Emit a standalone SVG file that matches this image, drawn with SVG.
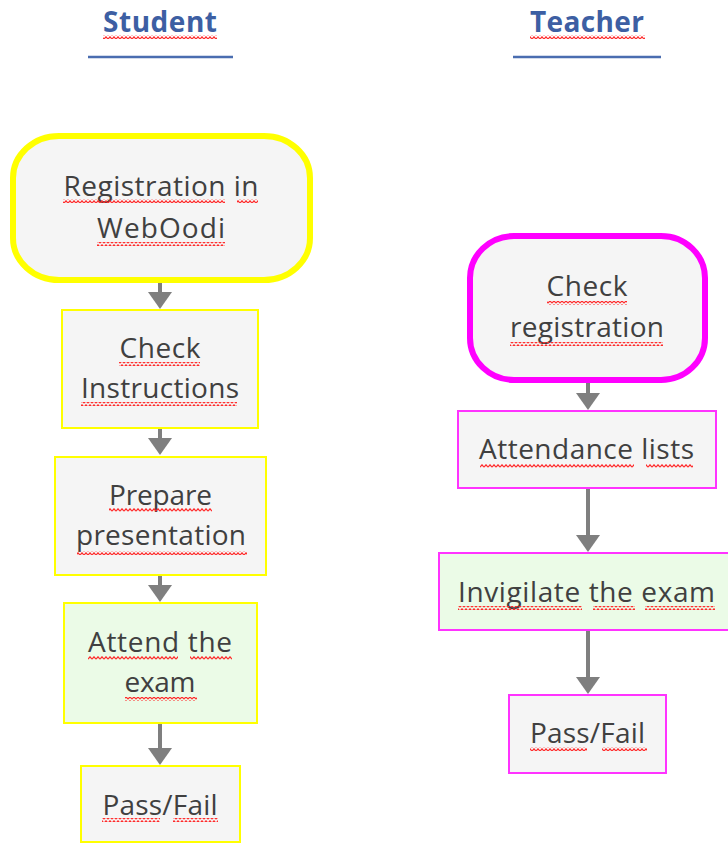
<svg xmlns="http://www.w3.org/2000/svg" width="728" height="843" viewBox="0 0 728 843">
<defs>
<style>
.title{font-family:"Open Sans","Liberation Sans",sans-serif;font-weight:bold;font-size:28px;fill:#3D5FA3;text-anchor:middle}
.rule{stroke:#4A6DB0;stroke-width:2.5}
.lbl{font-family:"Open Sans","Liberation Sans",sans-serif;font-size:28px;fill:#404040;text-anchor:middle}
.gray{fill:#F5F5F5}
.green{fill:#EBFBE7}
.yb{stroke:#FFFF00;stroke-width:2}
.mb{stroke:#FF33FF;stroke-width:2}
.yr{stroke:#FFFF00;stroke-width:6}
.mr{stroke:#FF00FF;stroke-width:6}
.conn line{stroke:#7F7F7F;stroke-width:4;marker-end:url(#ah)}
.sq{fill:url(#zig)}
</style>
<marker id="ah" markerUnits="userSpaceOnUse" markerWidth="17" markerHeight="24" viewBox="0 0 17 24" refX="9" refY="12" orient="auto">
<path d="M0,0 L17,12 L0,24 Z" fill="#7F7F7F"/>
</marker>
<pattern id="zig" patternUnits="userSpaceOnUse" width="4" height="4">
<path d="M0,3.2 L2,0.8 L4,3.2" fill="none" stroke="#FF2A2A" stroke-width="1.2"/>
</pattern>
</defs>
<rect width="728" height="843" fill="#FFFFFF"/>

<g id="header-student">
<text class="title" x="160" y="32" textLength="114">Student</text>
<rect class="sq" x="103" y="35" width="114" height="4"/>
<line class="rule" x1="88" y1="57" x2="233" y2="57"/>
</g>
<g id="header-teacher">
<text class="title" x="587" y="32" textLength="114">Teacher</text>
<rect class="sq" x="530" y="35" width="115" height="4"/>
<line class="rule" x1="513" y1="57" x2="661" y2="57"/>
</g>

<g class="conn" id="connectors">
<line x1="160" y1="283" x2="160" y2="301"/>
<line x1="160" y1="428" x2="160" y2="447"/>
<line x1="160" y1="575" x2="160" y2="594"/>
<line x1="160" y1="723" x2="160" y2="757"/>
<line x1="588" y1="383" x2="588" y2="402"/>
<line x1="588" y1="488" x2="588" y2="544"/>
<line x1="588" y1="630" x2="588" y2="686"/>
</g>

<g id="s-registration">
<rect class="gray yr" x="13" y="136" width="297" height="144" rx="46" ry="42"/>
<text class="lbl" x="161" y="196" textLength="195">Registration in</text>
<text class="lbl" x="161" y="238" textLength="128">WebOodi</text>
<rect class="sq" x="63" y="199" width="162" height="4"/>
<rect class="sq" x="237" y="199" width="21" height="4"/>
<rect class="sq" x="97" y="242" width="128" height="4"/>
</g>

<g id="s-check">
<rect class="gray yb" x="62" y="310" width="196" height="118"/>
<text class="lbl" x="160" y="358" textLength="81">Check</text>
<text class="lbl" x="160" y="398" textLength="158">Instructions</text>
<rect class="sq" x="119" y="362" width="81" height="4"/>
<rect class="sq" x="81" y="402" width="156" height="4"/>
</g>

<g id="s-prepare">
<rect class="gray yb" x="55" y="457" width="211" height="118"/>
<text class="lbl" x="160.5" y="505" textLength="103">Prepare</text>
<text class="lbl" x="161" y="545" textLength="170">presentation</text>
<rect class="sq" x="109" y="508" width="103" height="4"/>
<rect class="sq" x="77" y="551" width="170" height="4"/>
</g>

<g id="s-attend">
<rect class="green yb" x="64" y="603" width="193" height="120"/>
<text class="lbl" x="160" y="652" textLength="144">Attend the</text>
<text class="lbl" x="160" y="692" textLength="71">exam</text>
<rect class="sq" x="88" y="656" width="90" height="4"/>
<rect class="sq" x="190" y="656" width="42" height="4"/>
<rect class="sq" x="125" y="697" width="72" height="4"/>
</g>

<g id="s-passfail">
<rect class="gray yb" x="81" y="766" width="159" height="76"/>
<text class="lbl" x="160" y="815" textLength="115">Pass/Fail</text>
<rect class="sq" x="102" y="818" width="58" height="4"/>
<rect class="sq" x="173" y="818" width="45" height="4"/>
</g>

<g id="t-check">
<rect class="gray mr" x="470" y="236" width="235" height="144" rx="44" ry="42"/>
<text class="lbl" x="587" y="296" textLength="81">Check</text>
<text class="lbl" x="587" y="337" textLength="154">registration</text>
<rect class="sq" x="547" y="301" width="80" height="4"/>
<rect class="sq" x="510" y="342" width="153" height="4"/>
</g>

<g id="t-attendance">
<rect class="gray mb" x="458" y="411" width="258" height="77"/>
<text class="lbl" x="586.5" y="459" textLength="215">Attendance lists</text>
<rect class="sq" x="480" y="464" width="154" height="4"/>
<rect class="sq" x="646" y="464" width="47" height="4"/>
</g>

<g id="t-invigilate">
<rect class="green mb" x="439" y="553" width="295" height="77"/>
<text class="lbl" x="586.5" y="602" textLength="257">Invigilate the exam</text>
<rect class="sq" x="458" y="606" width="124" height="4"/>
<rect class="sq" x="593" y="606" width="42" height="4"/>
<rect class="sq" x="645" y="606" width="70" height="4"/>
</g>

<g id="t-passfail">
<rect class="gray mb" x="509" y="695" width="157" height="78"/>
<text class="lbl" x="587.5" y="743" textLength="115">Pass/Fail</text>
<rect class="sq" x="530" y="747" width="57" height="4"/>
<rect class="sq" x="602" y="747" width="45" height="4"/>
</g>
</svg>
